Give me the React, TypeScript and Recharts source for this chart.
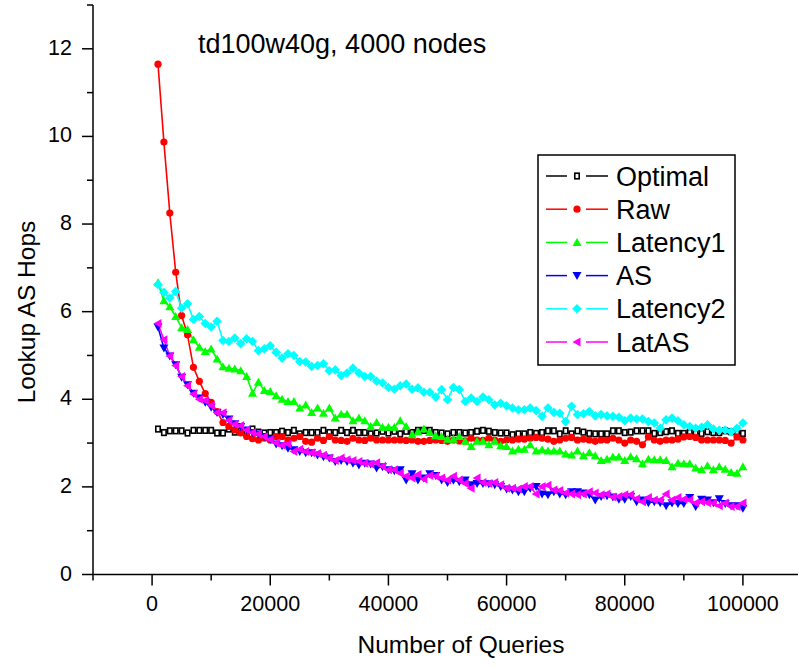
import { LineChart, Line, XAxis, YAxis, Legend } from 'recharts';

// x grid: one measurement every 1000 queries
const queries = Array.from({ length: 100 }, (_, i) => (i + 1) * 1000);

const optimal = [
  3.32, 3.24, 3.28, 3.28, 3.28, 3.23, 3.29, 3.29, 3.29, 3.29, 3.23, 3.23, 3.32, 3.25, 3.27, 3.25, 3.32, 3.25, 3.23,
  3.24, 3.24, 3.27, 3.24, 3.29, 3.21, 3.24, 3.24, 3.24, 3.29, 3.24, 3.24, 3.29, 3.24, 3.29, 3.24, 3.24, 3.21, 3.23, 3.27, 3.23,
  3.27, 3.21, 3.27, 3.24, 3.29, 3.29, 3.29, 3.24, 3.23, 3.21, 3.24, 3.24, 3.23, 3.24, 3.27, 3.29, 3.27, 3.24, 3.23, 3.23,
  3.19, 3.21, 3.21, 3.24, 3.22, 3.24, 3.28, 3.28, 3.21, 3.28, 3.21, 3.28, 3.25, 3.22, 3.21, 3.21, 3.21, 3.28, 3.28, 3.24, 3.25,
  3.28, 3.28, 3.28, 3.22, 3.24, 3.26, 3.28, 3.22, 3.22, 3.24, 3.22, 3.22, 3.26, 3.24, 3.24, 3.28, 3.26, 3.24, 3.22,
];

const raw = [
  11.65, 9.87, 8.25, 6.9, 5.91, 5.47, 4.73, 4.41, 4.13, 3.93, 3.72, 3.47, 3.38,
  3.3, 3.23, 3.15, 3.1, 3.07, 3.11,
  3.07, 3.15, 3.15, 3.07, 3.11, 3.15, 3.04, 3.02, 3.11, 3.06, 3.15, 3.07, 3.06, 3.04, 3.11, 3.07, 3.06, 3.11, 3.07, 3.07, 3.07,
  3.07, 3.07, 3.06, 3.07, 3.04, 3.04, 3.06, 3.07, 3.06, 3.04, 3.07, 3.05, 3.05, 3.11, 3.07, 3.06, 3.11, 3.07, 3.04, 3.07,
  3.07, 3.09, 3.09, 3.11, 3.13, 3.11, 3.09, 3.04, 3.07, 3.11, 3.13, 3.07, 3.09, 3.07, 3.04, 3.07, 3.07, 3.11, 3.07, 3.0, 3.07,
  3.04, 2.96, 3.14, 3.07, 3.04, 3.07, 3.07, 3.09, 3.14, 3.15, 3.13, 3.07, 3.07, 3.07, 3.07, 3.06, 3.0, 3.14, 3.07,
];

const latency1 = [
  6.66, 6.25, 6.11, 5.89, 5.63, 5.59, 5.36, 5.19, 5.09, 5.15, 4.92, 4.74, 4.71, 4.69, 4.65, 4.52, 4.14, 4.39, 4.2, 4.18,
  4.08, 4.0, 3.95, 3.95, 3.8, 3.87, 3.7, 3.8, 3.68, 3.8, 3.57, 3.66, 3.66, 3.51, 3.57, 3.51, 3.38, 3.47, 3.36, 3.36,
  3.36, 3.51, 3.38, 3.19, 3.26, 3.32, 3.24, 3.17, 3.15, 3.09, 3.09, 3.15, 3.04, 2.92, 3.04, 3.04, 2.96, 3.04, 2.94, 2.92,
  2.82, 2.86, 2.86, 2.96, 2.82, 2.85, 2.82, 2.82, 2.82, 2.75, 2.73, 2.82, 2.71, 2.78, 2.71, 2.6, 2.63, 2.68, 2.68, 2.6,
  2.69, 2.64, 2.53, 2.63, 2.62, 2.62, 2.6, 2.46, 2.54, 2.53, 2.53, 2.43, 2.39, 2.48, 2.39, 2.46, 2.4, 2.33, 2.31, 2.46,
];

const as = [
  5.65, 5.17, 4.99, 4.79, 4.5, 4.33, 4.14, 4.03, 3.93, 3.82, 3.7, 3.65, 3.55, 3.44, 3.38, 3.3, 3.24, 3.21, 3.15, 3.08,
  2.98, 2.94, 2.88, 2.85, 2.81, 2.78, 2.78, 2.73, 2.69, 2.66, 2.58, 2.6, 2.58, 2.54, 2.5, 2.54, 2.52, 2.43, 2.46, 2.39,
  2.37, 2.39, 2.16, 2.3, 2.16, 2.2, 2.3, 2.26, 2.16, 2.1, 2.15, 2.12, 2.16, 2.05, 2.08, 2.08, 2.07, 2.05, 2.01, 1.95,
  1.93, 1.89, 1.89, 1.97, 2.01, 1.84, 1.82, 1.89, 1.84, 1.82, 1.89, 1.89, 1.86, 1.82, 1.7, 1.78, 1.8, 1.77, 1.72, 1.72, 1.78,
  1.66, 1.7, 1.64, 1.66, 1.64, 1.57, 1.63, 1.62, 1.62, 1.76, 1.55, 1.72, 1.7, 1.64, 1.73, 1.62, 1.57, 1.57, 1.51,
];

const latency2 = [
  6.62, 6.44, 6.31, 6.46, 6.08, 6.18, 5.82, 5.89, 5.73, 5.65, 5.78, 5.34, 5.32, 5.4, 5.27, 5.38, 5.32, 5.11, 5.15, 5.22,
  5.07, 4.94, 5.04, 5.0, 4.86, 4.85, 4.75, 4.77, 4.81, 4.65, 4.67, 4.54, 4.6, 4.71, 4.6, 4.52, 4.52, 4.41, 4.37, 4.27,
  4.23, 4.31, 4.35, 4.23, 4.26, 4.16, 4.16, 4.05, 4.22, 3.99, 4.27, 4.22, 3.95, 4.03, 3.95, 4.05, 3.99, 3.87, 3.91, 3.85,
  3.8, 3.76, 3.76, 3.8, 3.74, 3.61, 3.8, 3.7, 3.68, 3.49, 3.84, 3.65, 3.67, 3.72, 3.62, 3.65, 3.62, 3.61, 3.59, 3.51, 3.57,
  3.55, 3.55, 3.49, 3.46, 3.34, 3.53, 3.57, 3.51, 3.42, 3.38, 3.34, 3.36, 3.42, 3.32, 3.29, 3.3, 3.26, 3.34, 3.46,
];

const latAS = [
  5.73, 5.36, 4.99, 4.77, 4.52, 4.31, 4.12, 4.0, 3.97, 3.86, 3.7, 3.69, 3.52, 3.43, 3.4, 3.3, 3.24, 3.21, 3.15, 3.08,
  3.0, 2.95, 2.98, 2.81, 2.86, 2.81, 2.78, 2.76, 2.72, 2.66, 2.6, 2.66, 2.62, 2.6, 2.58, 2.54, 2.52, 2.55, 2.47, 2.39,
  2.39, 2.31, 2.24, 2.2, 2.28, 2.18, 2.26, 2.24, 2.2, 2.16, 2.24, 2.16, 2.08, 1.97, 2.2, 2.1, 2.08, 2.1, 2.05, 1.97,
  1.97, 1.95, 2.01, 2.01, 1.84, 2.01, 2.04, 1.93, 1.92, 1.86, 1.84, 1.82, 1.84, 1.89, 1.86, 1.82, 1.84, 1.77, 1.78, 1.82, 1.82,
  1.73, 1.66, 1.76, 1.7, 1.7, 1.84, 1.7, 1.76, 1.72, 1.7, 1.63, 1.66, 1.64, 1.63, 1.57, 1.63, 1.55, 1.55, 1.63,
];

const xTicks = [-10000, 0, 10000, 20000, 30000, 40000, 50000, 60000, 70000, 80000, 90000, 100000, 110000];
const yTicks = [0, 1, 2, 3, 4, 5, 6, 7, 8, 9, 10, 11, 12, 13];

const series = [
  { key: 'optimal', name: 'Optimal', color: '#000000', shape: 'square' },
  { key: 'raw', name: 'Raw', color: '#ff0000', shape: 'circle' },
  { key: 'latency1', name: 'Latency1', color: '#00ff00', shape: 'up' },
  { key: 'as', name: 'AS', color: '#0000ff', shape: 'down' },
  { key: 'latency2', name: 'Latency2', color: '#00ffff', shape: 'diamond' },
  { key: 'latAS', name: 'LatAS', color: '#ff00ff', shape: 'left' },
];

const data = queries.map((q, i) => ({
  q,
  optimal: optimal[i],
  raw: raw[i],
  latency1: latency1[i],
  as: as[i],
  latency2: latency2[i],
  latAS: latAS[i],
}));

const FONT = '"Liberation Sans", Arial, sans-serif';

const Marker = ({ cx, cy, shape, color }: any) => {
  if (cx == null || cy == null) return null;
  switch (shape) {
    case 'square':
      return <rect x={cx - 2.2} y={cy - 2.8} width={4.4} height={5.6} fill="white" stroke={color} strokeWidth={1.6} />;
    case 'circle':
      return <circle cx={cx} cy={cy} r={3.6} fill={color} />;
    case 'up':
      return <polygon points={`${cx},${cy - 4.5} ${cx - 4.5},${cy + 3.5} ${cx + 4.5},${cy + 3.5}`} fill={color} />;
    case 'down':
      return <polygon points={`${cx},${cy + 4.5} ${cx - 4.5},${cy - 3.5} ${cx + 4.5},${cy - 3.5}`} fill={color} />;
    case 'diamond':
      return <polygon points={`${cx},${cy - 4.8} ${cx + 4.8},${cy} ${cx},${cy + 4.8} ${cx - 4.8},${cy}`} fill={color} />;
    case 'left':
      return <polygon points={`${cx - 4.5},${cy} ${cx + 3.5},${cy - 4.5} ${cx + 3.5},${cy + 4.5}`} fill={color} />;
    default:
      return null;
  }
};

const XTick = ({ x, y, payload }: any) => {
  const v = payload.value;
  const major = v % 20000 === 0;
  return (
    <g>
      <line x1={x} x2={x} y1={y} y2={y + (major ? 11 : 6)} stroke="#000" strokeWidth={1.5} />
      {major && (
        <text x={x} y={y + 36} textAnchor="middle" fontSize={21.5} fontFamily={FONT} fill="#000">
          {v}
        </text>
      )}
    </g>
  );
};

const YTick = ({ x, y, payload }: any) => {
  const v = payload.value;
  const major = v % 2 === 0;
  return (
    <g>
      <line x1={x} x2={x - (major ? 11 : 6)} y1={y} y2={y} stroke="#000" strokeWidth={1.5} />
      {major && (
        <text x={x - 21} y={y + 6} textAnchor="end" fontSize={21.5} fontFamily={FONT} fill="#000">
          {v}
        </text>
      )}
    </g>
  );
};

const LegendBox = () => (
  <svg width={199} height={212} style={{ display: 'block' }}>
    <rect x={1} y={1} width={197} height={210} fill="white" stroke="#000" strokeWidth={1.5} />
    {series.map((s, i) => {
      const cy = 22 + i * 33.2;
      return (
        <g key={s.key}>
          <line x1={9} x2={30} y1={cy} y2={cy} stroke={s.color} strokeWidth={1.5} />
          <line x1={49} x2={71} y1={cy} y2={cy} stroke={s.color} strokeWidth={1.5} />
          <Marker cx={40} cy={cy} shape={s.shape} color={s.color} />
          <text x={79} y={cy + 9.5} fontSize={27} fontFamily={FONT} fill="#000">
            {s.name}
          </text>
        </g>
      );
    })}
  </svg>
);

export default function App() {
  return (
    <div style={{ position: 'absolute', left: 0, top: 0, width: 798, height: 666, overflow: 'hidden', background: 'white' }}>
      <LineChart width={806} height={666} data={data} margin={{ top: 5, right: 4, left: 33, bottom: 61.5 }}>
        <XAxis
          dataKey="q"
          type="number"
          domain={[-10000, 110000]}
          ticks={xTicks}
          interval={0}
          tickSize={0}
          tickMargin={0}
          tickLine={false}
          tick={<XTick />}
          height={30}
          axisLine={{ stroke: '#000', strokeWidth: 1.5 }}
          allowDataOverflow
        />
        <YAxis
          type="number"
          domain={[0, 13]}
          ticks={yTicks}
          interval={0}
          tickSize={0}
          tickMargin={0}
          tickLine={false}
          tick={<YTick />}
          width={60}
          axisLine={{ stroke: '#000', strokeWidth: 1.5 }}
          allowDataOverflow
        />
        <Legend
          layout="horizontal"
          verticalAlign="middle"
          align="center"
          content={<LegendBox />}
          wrapperStyle={{ position: 'absolute', left: 537, top: 154, width: 199, height: 212 }}
        />
        {series.map((s) => (
          <Line
            key={s.key}
            dataKey={s.key}
            name={s.name}
            type="linear"
            stroke={s.color}
            strokeWidth={1.6}
            isAnimationActive={false}
            dot={(p: any) => <Marker key={`${s.key}-${p.index}`} cx={p.cx} cy={p.cy} shape={s.shape} color={s.color} />}
            activeDot={false}
          />
        ))}
        <text x={198} y={53} fontSize={27} fontFamily={FONT} fill="#000">
          td100w40g, 4000 nodes
        </text>
        <text x={461} y={653} textAnchor="middle" fontSize={24.5} fontFamily={FONT} fill="#000">
          Number of Queries
        </text>
        <text x={35} y={312} textAnchor="middle" fontSize={24.5} fontFamily={FONT} fill="#000" transform="rotate(-90 35 312)">
          Lookup AS Hops
        </text>
      </LineChart>
    </div>
  );
}
